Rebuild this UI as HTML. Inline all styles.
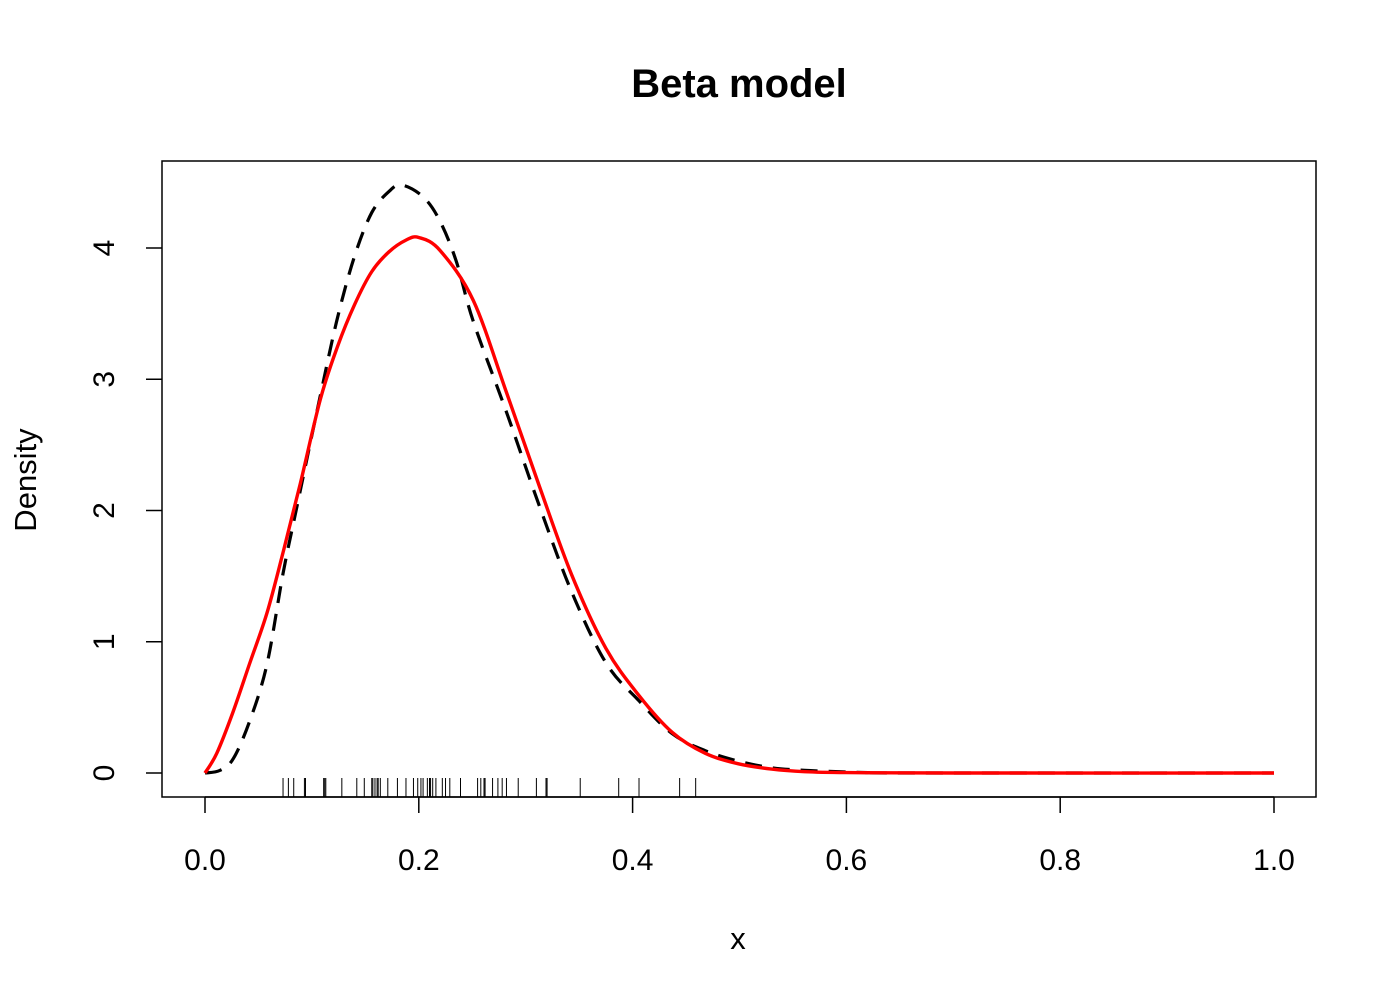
<!DOCTYPE html>
<html><head><meta charset="utf-8"><style>
html,body{margin:0;padding:0;background:#fff;}
svg{display:block;font-family:"Liberation Sans",Arial,sans-serif;}
</style></head><body>
<svg id="chart" width="1400" height="1000">
<text x="739" y="97" text-anchor="middle" font-size="40" font-weight="bold">Beta model</text>
<rect x="162" y="161" width="1154" height="636" fill="none" stroke="#000" stroke-width="1.5"/>
<text x="738" y="949" text-anchor="middle" font-size="31">x</text>
<text transform="translate(36,480) rotate(-90)" text-anchor="middle" font-size="31">Density</text>
<g id="axes"></g>
<g id="rug"></g>
<g id="series"></g>
</svg>
<script>
const xTicks = [0, 0.2, 0.4, 0.6, 0.8, 1.0];
const xTickLabels = ["0.0", "0.2", "0.4", "0.6", "0.8", "1.0"];
const yTicks = [0, 1, 2, 3, 4];
const yTickLabels = ["0", "1", "2", "3", "4"];
const rugValues = [0.073,0.078,0.083,0.093,0.094,0.111,0.112,0.113,0.128,0.142,0.149,0.156,0.157,0.159,0.161,0.162,0.164,0.171,0.180,0.188,0.195,0.199,0.202,0.204,0.208,0.210,0.211,0.213,0.216,0.222,0.225,0.229,0.239,0.255,0.258,0.261,0.262,0.269,0.274,0.278,0.282,0.293,0.310,0.319,0.320,0.351,0.387,0.406,0.444,0.459];
const redX = [0,0.011,0.026,0.042,0.058,0.073,0.089,0.108,0.124,0.140,0.156,0.172,0.188,0.2,0.22,0.251,0.282,0.313,0.343,0.375,0.406,0.437,0.468,0.499,0.53,0.561,0.6,0.7,1.0];
const redY = [0,0.15,0.46,0.84,1.22,1.68,2.20,2.85,3.25,3.57,3.82,3.97,4.06,4.08,3.98,3.60,2.90,2.18,1.51,0.95,0.59,0.31,0.15,0.07,0.03,0.01,0.003,0,0];
const dashX = [0,0.014,0.0265,0.042,0.058,0.073,0.086,0.108,0.124,0.140,0.156,0.172,0.184,0.204,0.2195,0.235,0.251,0.282,0.313,0.343,0.375,0.406,0.437,0.468,0.499,0.53,0.561,0.593,0.62,0.65,1.0];
const dashY = [0,0.02,0.11,0.40,0.83,1.52,2.03,2.88,3.47,3.94,4.27,4.43,4.48,4.39,4.21,3.90,3.44,2.75,2.03,1.38,0.84,0.55,0.30,0.17,0.09,0.04,0.02,0.01,0.003,0,0];

const NS = "http://www.w3.org/2000/svg";
function sx(v){ return 205 + v * 1069; }
function sy(v){ return 773 - v * 131.25; }
function mk(tag, attrs, parent){
  const el = document.createElementNS(NS, tag);
  for (const k in attrs) el.setAttribute(k, attrs[k]);
  parent.appendChild(el);
  return el;
}
const axes = document.getElementById('axes');
mk('line',{x1:sx(xTicks[0]),x2:sx(xTicks[xTicks.length-1]),y1:797,y2:797,stroke:'#000','stroke-width':1.5},axes);
xTicks.forEach((t,i)=>{
  const l = mk('line',{x1:sx(t),x2:sx(t),y1:797,y2:813,stroke:'#000','stroke-width':1.5},axes);
  
  
  const tx = mk('text',{x:sx(t),y:870,'text-anchor':'middle','font-size':30},axes);
  tx.textContent = xTickLabels[i];
  
  
});
yTicks.forEach((t,i)=>{
  const l = mk('line',{x1:146,x2:162,y1:sy(t),y2:sy(t),stroke:'#000','stroke-width':1.5},axes);
  
  
  const tx = mk('text',{transform:'translate(114,'+sy(t)+') rotate(-90)','text-anchor':'middle','font-size':30},axes);
  tx.textContent = yTickLabels[i];
  
  
});
const rug = document.getElementById('rug');
rugValues.forEach(v=>{
  const l = mk('line',{x1:sx(v),x2:sx(v),y1:778,y2:797,stroke:'#000','stroke-width':1},rug);
  
  
});
function smoothPath(xs, ys){
  const p = xs.map((x,i)=>[sx(x), sy(ys[i])]);
  let d = 'M'+p[0][0]+','+p[0][1];
  for (let i=0;i<p.length-1;i++){
    const p0=p[Math.max(0,i-1)], p1=p[i], p2=p[i+1], p3=p[Math.min(p.length-1,i+2)];
    const c1=[p1[0]+(p2[0]-p0[0])/6, p1[1]+(p2[1]-p0[1])/6];
    const c2=[p2[0]-(p3[0]-p1[0])/6, p2[1]-(p3[1]-p1[1])/6];
    d += ' C'+c1[0]+','+c1[1]+' '+c2[0]+','+c2[1]+' '+p2[0]+','+p2[1];
  }
  return d;
}
const series = document.getElementById('series');
const dl = mk('path',{d:smoothPath(dashX,dashY),fill:'none',stroke:'#000','stroke-width':3.2,'stroke-dasharray':'17,11'},series);


const rl = mk('path',{d:smoothPath(redX,redY),fill:'none',stroke:'#ff0000','stroke-width':3.4},series);


</script>
</body></html>
